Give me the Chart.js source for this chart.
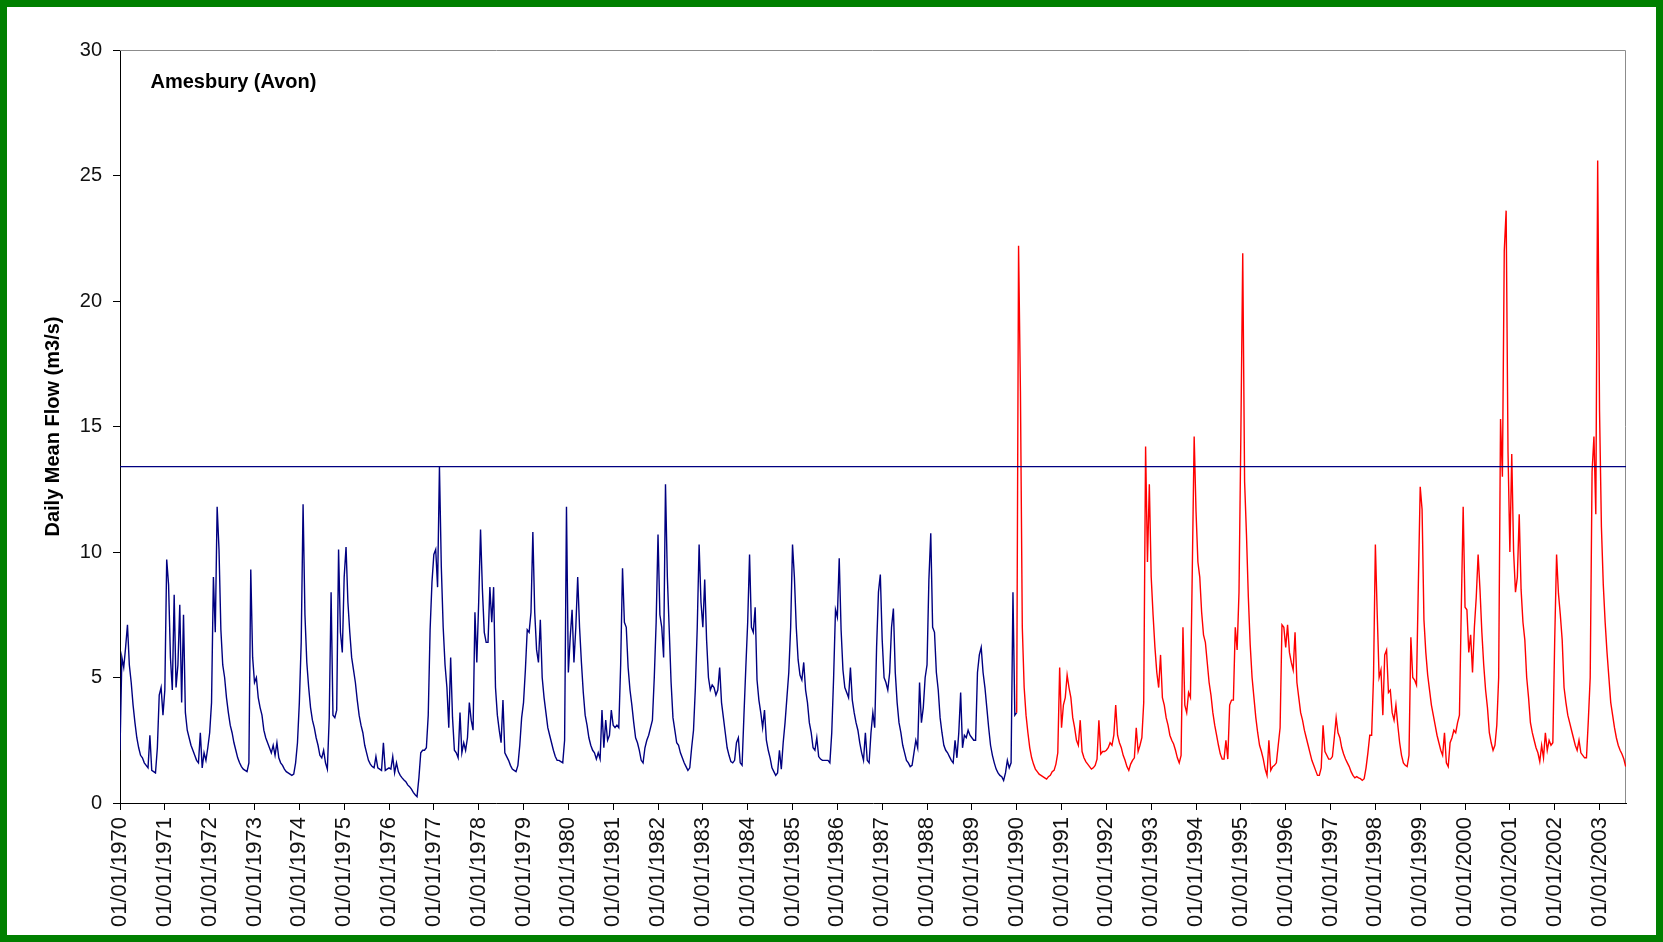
<!DOCTYPE html>
<html>
<head>
<meta charset="utf-8">
<title>Amesbury (Avon)</title>
<script src="https://cdn.jsdelivr.net/npm/chart.js@4.4.1/dist/chart.umd.min.js"></script>
<style>
  html, body { margin: 0; padding: 0; background: #fff; }
  #frame { width: 1663px; height: 942px; box-sizing: border-box; border: 7px solid #008000; background: #fff; }
  #frame canvas { display: block; }
</style>
</head>
<body>
<div id="frame"><canvas id="flowChart" width="1649" height="928"></canvas></div>
<script>
const stationName = "Amesbury (Avon)";
const axisTitle = "Daily Mean Flow (m3/s)";

// half-monthly readings, 24 per year
const samplesPerYear = 24;
const blueStartYear = 1970;
const redStartYear = 1990;
const endYear = 2003.59;
const thresholdFlow = 13.4;

const tickYears = [1970, 1971, 1972, 1973, 1974, 1975, 1976, 1977, 1978, 1979, 1980, 1981,
  1982, 1983, 1984, 1985, 1986, 1987, 1988, 1989, 1990, 1991, 1992, 1993, 1994, 1995,
  1996, 1997, 1998, 1999, 2000, 2001, 2002, 2003];
const tickLabels = tickYears.map(y => "01/01/" + y);
const flowTicks = [0, 5, 10, 15, 20, 25, 30];

const blueFlow = [
  [2.1, 5.8, 5.4, 6.2, 7.1, 5.5, 4.8, 3.9, 3.2, 2.6, 2.2, 1.9, 1.8, 1.6, 1.5, 1.4, 2.7, 1.3, 1.25, 1.2, 2.2, 4.3, 4.6, 3.5], // 1970
  [4.5, 9.7, 8.7, 5.8, 4.5, 8.3, 4.6, 5.5, 7.9, 4.0, 7.5, 3.6, 2.9, 2.6, 2.3, 2.1, 1.9, 1.7, 1.6, 2.8, 1.4, 2.0, 1.7, 2.2], // 1971
  [2.8, 4.0, 9.0, 6.8, 11.8, 10.1, 6.9, 5.5, 5.0, 4.2, 3.6, 3.1, 2.8, 2.4, 2.1, 1.8, 1.6, 1.45, 1.35, 1.3, 1.25, 1.6, 9.3, 5.8], // 1972
  [4.8, 5.0, 4.2, 3.8, 3.5, 2.9, 2.6, 2.4, 2.2, 2.0, 2.3, 1.9, 2.4, 1.8, 1.6, 1.5, 1.35, 1.25, 1.2, 1.15, 1.1, 1.15, 1.6, 2.4], // 1973
  [4.0, 6.4, 11.9, 7.5, 5.6, 4.6, 3.8, 3.3, 3.0, 2.6, 2.3, 1.9, 1.8, 2.1, 1.6, 1.35, 3.4, 8.4, 3.5, 3.4, 3.7, 10.1, 6.8, 6.0], // 1974
  [9.0, 10.2, 8.0, 6.8, 5.8, 5.3, 4.8, 4.1, 3.5, 3.1, 2.8, 2.3, 2.0, 1.7, 1.55, 1.45, 1.4, 1.85, 1.4, 1.35, 1.3, 2.4, 1.3, 1.35], // 1975
  [1.4, 1.35, 1.85, 1.2, 1.6, 1.25, 1.1, 1.0, 0.92, 0.85, 0.72, 0.65, 0.55, 0.42, 0.33, 0.25, 1.0, 2.0, 2.1, 2.1, 2.2, 3.5, 6.9, 8.8], // 1976
  [9.9, 10.1, 8.6, 13.4, 9.4, 7.0, 5.5, 4.6, 3.0, 5.8, 3.4, 2.1, 2.0, 1.8, 3.6, 2.0, 2.4, 2.1, 2.6, 4.0, 3.3, 2.9, 7.6, 5.6], // 1977
  [8.0, 10.9, 8.5, 6.8, 6.4, 6.4, 8.6, 7.2, 8.6, 4.6, 3.5, 2.9, 2.4, 4.1, 2.0, 1.85, 1.7, 1.5, 1.35, 1.3, 1.25, 1.5, 2.3, 3.4], // 1978
  [4.0, 5.3, 6.9, 6.8, 7.6, 10.8, 7.6, 6.1, 5.6, 7.3, 5.0, 4.2, 3.6, 3.0, 2.7, 2.4, 2.1, 1.85, 1.7, 1.7, 1.65, 1.6, 2.5, 11.8], // 1979
  [5.2, 6.6, 7.7, 5.6, 7.0, 9.0, 7.0, 5.6, 4.4, 3.5, 3.1, 2.6, 2.3, 2.1, 2.0, 1.75, 2.0, 1.75, 3.7, 2.2, 3.3, 2.5, 2.7, 3.7], // 1980
  [3.1, 3.0, 3.1, 3.0, 5.5, 9.35, 7.2, 7.0, 5.4, 4.5, 3.9, 3.2, 2.6, 2.4, 2.1, 1.7, 1.6, 2.2, 2.5, 2.7, 3.0, 3.3, 5.0, 7.2], // 1981
  [10.7, 7.5, 7.0, 5.8, 12.7, 9.0, 6.9, 4.8, 3.4, 2.9, 2.4, 2.3, 2.0, 1.8, 1.6, 1.45, 1.3, 1.4, 2.2, 2.9, 4.6, 7.0, 10.3, 8.0], // 1982
  [7.0, 8.9, 6.5, 5.0, 4.5, 4.7, 4.6, 4.3, 4.5, 5.4, 4.0, 3.4, 2.8, 2.2, 1.9, 1.65, 1.6, 1.7, 2.4, 2.6, 1.6, 1.5, 3.5, 5.4], // 1983
  [7.2, 9.9, 7.0, 6.8, 7.8, 4.9, 4.1, 3.6, 3.0, 3.7, 2.5, 2.1, 1.8, 1.4, 1.25, 1.1, 1.2, 2.1, 1.35, 2.4, 3.2, 4.2, 5.2, 7.0], // 1984
  [10.3, 9.0, 7.0, 5.7, 5.1, 4.9, 5.6, 4.5, 4.0, 3.2, 2.8, 2.2, 2.1, 2.6, 1.85, 1.75, 1.7, 1.7, 1.7, 1.7, 1.6, 2.8, 5.0, 7.7], // 1985
  [7.4, 9.75, 6.9, 5.3, 4.6, 4.4, 4.2, 5.4, 4.1, 3.6, 3.2, 2.9, 2.4, 2.0, 1.7, 2.8, 1.7, 1.6, 2.8, 3.6, 3.0, 6.2, 8.4, 9.1], // 1986
  [6.5, 5.0, 4.8, 4.5, 5.2, 7.0, 7.75, 5.2, 4.0, 3.2, 2.8, 2.3, 2.0, 1.7, 1.6, 1.45, 1.5, 2.0, 2.5, 2.2, 4.8, 3.2, 3.8, 5.0], // 1987
  [5.5, 8.9, 10.75, 7.0, 6.8, 5.2, 4.5, 3.4, 2.8, 2.3, 2.1, 2.0, 1.85, 1.7, 1.6, 2.5, 1.8, 2.8, 4.4, 2.2, 2.7, 2.6, 2.9, 2.7], // 1988
  [2.6, 2.5, 2.5, 5.2, 5.9, 6.2, 5.2, 4.6, 3.8, 3.0, 2.3, 1.9, 1.6, 1.35, 1.2, 1.1, 1.05, 0.9, 1.2, 1.7, 1.4, 1.6, 8.4, 3.5]  // 1989
];

const redFlow = [
  [3.6, 22.2, 16.4, 7.0, 4.6, 3.5, 2.8, 2.2, 1.8, 1.55, 1.35, 1.25, 1.15, 1.1, 1.05, 1.0, 0.95, 1.05, 1.1, 1.25, 1.3, 1.55, 2.0, 5.4], // 1990
  [3.0, 3.9, 4.2, 5.1, 4.6, 4.2, 3.4, 3.0, 2.5, 2.3, 3.3, 2.05, 1.8, 1.65, 1.55, 1.45, 1.35, 1.4, 1.5, 1.75, 3.3, 1.95, 2.05, 2.05], // 1991
  [2.1, 2.2, 2.4, 2.3, 2.7, 3.9, 2.7, 2.4, 2.2, 1.9, 1.7, 1.45, 1.3, 1.55, 1.7, 1.8, 3.0, 2.05, 2.3, 2.6, 4.0, 14.2, 9.6, 12.7], // 1992
  [9.0, 7.5, 6.2, 5.2, 4.6, 5.9, 4.2, 3.9, 3.4, 3.1, 2.7, 2.5, 2.35, 2.1, 1.8, 1.6, 1.9, 7.0, 3.9, 3.6, 4.4, 4.2, 9.3, 14.6], // 1993
  [11.6, 9.6, 9.0, 7.6, 6.7, 6.4, 5.6, 4.8, 4.3, 3.6, 3.1, 2.7, 2.3, 1.95, 1.75, 1.75, 2.5, 1.75, 3.9, 4.1, 4.1, 7.0, 6.1, 8.4], // 1994
  [14.7, 21.9, 12.8, 10.7, 8.2, 6.3, 5.0, 4.2, 3.4, 2.8, 2.3, 2.05, 1.75, 1.35, 1.1, 2.5, 1.3, 1.45, 1.5, 1.6, 2.3, 3.0, 7.1, 7.0], // 1995
  [6.2, 7.1, 6.0, 5.6, 5.3, 6.8, 4.8, 4.2, 3.6, 3.3, 2.9, 2.6, 2.3, 2.0, 1.7, 1.5, 1.3, 1.1, 1.1, 1.4, 3.1, 2.05, 1.9, 1.75], // 1996
  [1.75, 1.85, 2.6, 3.4, 2.8, 2.6, 2.2, 1.95, 1.75, 1.6, 1.45, 1.25, 1.1, 1.0, 1.05, 1.0, 0.97, 0.9, 0.97, 1.4, 2.0, 2.7, 2.7, 5.0], // 1997
  [10.3, 7.5, 5.0, 5.3, 3.5, 5.9, 6.1, 4.4, 4.5, 3.6, 3.3, 3.9, 3.1, 2.4, 1.9, 1.6, 1.5, 1.45, 1.9, 6.6, 5.0, 4.9, 4.7, 8.7], // 1998
  [12.6, 11.7, 7.3, 6.0, 5.1, 4.5, 3.9, 3.5, 3.1, 2.7, 2.4, 2.1, 1.9, 2.8, 1.6, 1.45, 2.4, 2.6, 2.9, 2.8, 3.2, 3.5, 7.8, 11.8], // 1999
  [7.8, 7.7, 6.0, 6.7, 5.2, 7.0, 8.2, 9.9, 8.5, 6.8, 5.5, 4.5, 3.8, 2.8, 2.4, 2.1, 2.3, 3.1, 5.0, 15.3, 13.0, 22.0, 23.6, 14.0], // 2000
  [10.0, 13.9, 10.0, 8.4, 9.0, 11.5, 8.5, 7.2, 6.5, 5.0, 4.2, 3.2, 2.8, 2.5, 2.2, 2.0, 1.65, 2.3, 1.8, 2.8, 2.1, 2.5, 2.3, 2.4], // 2001
  [6.5, 9.9, 8.35, 7.5, 6.5, 4.6, 4.0, 3.5, 3.2, 2.9, 2.6, 2.3, 2.1, 2.5, 2.0, 1.9, 1.8, 1.8, 3.3, 5.0, 13.2, 14.6, 11.5, 25.6], // 2002
  [15.6, 11.0, 8.7, 7.2, 6.0, 5.0, 4.0, 3.5, 3.0, 2.6, 2.3, 2.1, 1.95, 1.75, 1.45]  // 2003 (to end of July)
];

const FONT = "'Liberation Sans', Arial, sans-serif";
Chart.defaults.font.family = FONT;

function toPoints(years, startYear) {
  return years.flat().map((v, i) => ({ x: startYear + i / samplesPerYear, y: v }));
}

const bluePoints = toPoints(blueFlow, blueStartYear);
const redPoints = toPoints(redFlow, redStartYear);
// join the two runs at 01/01/1990
bluePoints.push({ x: redStartYear, y: redPoints[0].y });

const frameLines = {
  id: "frameLines",
  beforeDatasetsDraw(chart) {
    const { ctx, chartArea: a } = chart;
    ctx.save();
    ctx.strokeStyle = "#8c8c8c";
    ctx.lineWidth = 1;
    ctx.beginPath();
    ctx.moveTo(a.left, a.top + 0.5);
    ctx.lineTo(a.right - 0.5, a.top + 0.5);
    ctx.lineTo(a.right - 0.5, a.bottom);
    ctx.stroke();
    ctx.restore();
  }
};

const stationLabel = {
  id: "stationLabel",
  afterDraw(chart) {
    const { ctx, chartArea: a } = chart;
    ctx.save();
    ctx.font = "bold 20px " + FONT;
    ctx.fillStyle = "#000";
    ctx.textBaseline = "alphabetic";
    ctx.fillText(stationName, a.left + 30.5, a.top + 37.5);
    ctx.restore();
  }
};

new Chart(document.getElementById("flowChart"), {
  type: "line",
  data: {
    datasets: [
      {
        label: "threshold",
        data: [{ x: blueStartYear, y: thresholdFlow }, { x: endYear, y: thresholdFlow }],
        borderColor: "#000080",
        borderWidth: 1.3,
        order: 0
      },
      {
        label: "1990-2003",
        data: redPoints,
        borderColor: "#ff0000",
        borderWidth: 1.4,
        order: 1
      },
      {
        label: "1970-1989",
        data: bluePoints,
        borderColor: "#000080",
        borderWidth: 1.4,
        order: 2
      }
    ]
  },
  options: {
    responsive: false,
    animation: false,
    devicePixelRatio: 1,
    parsing: false,
    elements: { point: { radius: 0 }, line: { tension: 0, fill: false } },
    layout: { padding: { top: 43, right: 30, left: 0, bottom: 0 } },
    plugins: { legend: { display: false }, tooltip: { enabled: false }, title: { display: false } },
    scales: {
      x: {
        type: "linear",
        min: blueStartYear,
        max: endYear,
        afterFit(scale) { scale.height = 132; },
        afterBuildTicks(scale) { scale.ticks = tickYears.map(v => ({ value: v })); },
        ticks: {
          autoSkip: false,
          minRotation: 90,
          maxRotation: 90,
          padding: 7,
          color: "#111",
          font: { size: 22 },
          callback: (v, i) => tickLabels[i]
        },
        grid: { drawOnChartArea: false, drawTicks: true, tickLength: 7, color: "#000" },
        border: { color: "#000", width: 1 }
      },
      y: {
        min: 0,
        max: 30,
        afterFit(scale) { scale.width = 113; },
        afterBuildTicks(scale) { scale.ticks = flowTicks.map(v => ({ value: v })); },
        ticks: { padding: 11, color: "#111", font: { size: 20 } },
        grid: { drawOnChartArea: false, drawTicks: true, tickLength: 7, color: "#000" },
        border: { color: "#000", width: 1 },
        title: {
          display: true,
          text: axisTitle,
          color: "#000",
          font: { size: 20, weight: "bold" },
          padding: { top: 34, bottom: 0 }
        }
      }
    }
  },
  plugins: [frameLines, stationLabel]
});
</script>
</body>
</html>
